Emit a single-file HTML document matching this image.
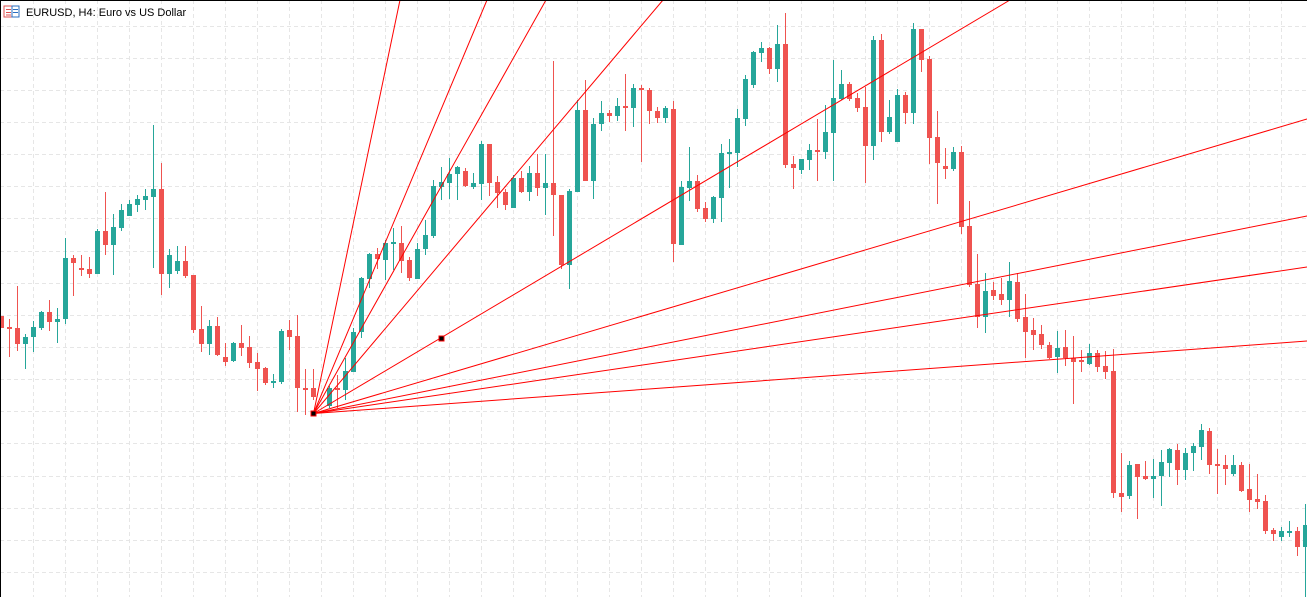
<!DOCTYPE html>
<html><head><meta charset="utf-8"><style>
html,body{margin:0;padding:0;background:#fff;}
#c{position:relative;width:1307px;height:597px;overflow:hidden;}
svg{position:absolute;left:0;top:0;}
</style></head><body><div id="c">
<svg id="s" width="1307" height="597" viewBox="0 0 1307 597" xmlns="http://www.w3.org/2000/svg" shape-rendering="crispEdges">
<g id="grid" stroke="#e6e6e6" stroke-width="1" stroke-dasharray="4,3"></g>
<g id="cd"></g>
<g id="fan" stroke="#ff0000" stroke-width="1" fill="none" shape-rendering="auto"></g>
<rect x="311" y="411" width="5" height="5" fill="#000" stroke="#ff0000" stroke-width="1"/>
<rect x="439" y="336" width="5" height="5" fill="#000" stroke="#ff0000" stroke-width="1"/>
<line x1="0" y1="0.5" x2="1307" y2="0.5" stroke="#000"/>
<line x1="0.5" y1="0" x2="0.5" y2="597" stroke="#000"/>
<rect x="4" y="6" width="15" height="11" fill="#fff" stroke="#e05050"/>
<rect x="12" y="6" width="7" height="11" fill="#fff" stroke="#2a6fc0"/>
<line x1="6" y1="9.5" x2="11" y2="9.5" stroke="#e05050"/><line x1="6" y1="12.5" x2="11" y2="12.5" stroke="#e05050"/><line x1="6" y1="15" x2="11" y2="15" stroke="#e05050"/>
<line x1="13" y1="9.5" x2="18" y2="9.5" stroke="#2a6fc0"/><line x1="13" y1="12.5" x2="18" y2="12.5" stroke="#2a6fc0"/>
<text x="26" y="16" font-family="Liberation Sans, sans-serif" font-size="11" fill="#000">EURUSD, H4:  Euro vs US Dollar</text>
</svg></div>
<script>
var G="#26a69a",R="#ef5350";
var d=[
[1,316,328,316,328,R],[9,327,329,319,357,R],[17,328,344,286,351,R],[25,337,344,334,369,G],[33,327,337,321,352,G],[41,312,328,311,330,G],[49,312,322,300,331,R],[57,319,322,308,343,G],[65,258,319,238,324,G],[73,258,263,255,296,R],[81,268,270,255,276,R],[89,269,274,257,278,R],[97,231,274,229,274,G],[105,231,245,192,255,R],[113,227,245,214,275,G],[121,210,228,204,231,G],[129,204,216,200,216,G],[137,199,205,195,212,G],[145,196,200,189,210,G],[153,189,197,125,268,G],[161,189,274,163,295,R],[169,255,274,249,288,G],[177,261,271,246,274,G],[185,261,276,246,278,R],[193,275,330,275,333,R],[201,329,344,306,352,R],[209,326,344,320,355,G],[217,326,355,317,356,R],[225,357,362,343,366,R],[233,343,361,342,362,G],[241,343,348,325,356,R],[249,347,363,336,368,R],[257,362,369,353,391,R],[265,368,383,367,385,R],[273,381,383,374,388,G],[281,331,382,329,384,G],[289,330,337,320,350,R],[297,336,388,315,412,R],[305,388,389,369,415,R],[313,388,397,369,400,R],
[329,388,406,386,408,G],[337,388,389,375,408,R],[345,371,390,358,400,G],[353,332,372,328,372,G],[361,278,332,277,338,G],[369,254,279,253,288,G],[377,254,259,248,269,R],[385,243,260,240,280,G],[393,242,244,228,270,G],[401,243,261,226,273,R],[409,260,278,257,281,R],[417,249,279,243,279,G],[425,235,249,220,255,G],[433,186,236,180,238,G],[441,182,187,167,200,G],[449,174,183,158,199,G],[457,167,174,166,200,G],[465,171,186,168,187,R],[473,183,187,173,189,G],[481,144,184,141,200,G],[489,144,183,144,196,R],[497,182,193,176,208,R],[505,192,205,189,210,R],[513,178,208,175,208,G],[521,178,192,171,193,R],[529,173,192,166,201,G],[537,173,188,154,196,R],[545,183,188,154,215,G],[553,183,195,61,236,R],[561,195,265,195,269,R],[569,191,265,189,289,G],[577,110,192,100,192,G],[585,110,181,80,181,R],[593,124,181,118,199,G],[601,113,124,101,131,G],[609,113,116,110,122,R],[617,106,116,98,121,G],[625,106,108,74,131,R],[633,88,108,84,127,G],[641,88,90,85,162,R],[649,90,111,88,124,R],[657,111,118,107,123,R],[665,108,118,106,123,G],
[673,109,244,101,262,R],[681,187,245,181,245,G],[689,181,188,147,201,G],[697,181,209,175,212,R],[705,208,219,202,222,R],[713,197,219,196,223,G],[721,153,198,144,222,G],[729,152,154,139,188,G],[737,118,153,109,167,G],[745,79,119,75,126,G],[753,52,85,51,88,G],[761,48,53,42,62,G],[769,48,69,47,74,R],[777,44,69,25,82,G],[785,44,165,13,168,R],[793,164,168,156,189,R],[801,159,170,159,174,G],[809,150,160,144,170,G],[817,150,152,119,181,R],[825,132,152,105,159,G],[833,98,133,60,181,G],[841,84,99,70,100,G],[849,84,99,82,101,R],[857,98,108,93,112,R],[865,107,146,87,183,R],[873,40,146,36,160,G],[881,40,132,34,142,R],[889,117,132,100,134,G],[897,95,142,89,142,G],[905,95,113,92,124,R],[913,29,113,23,124,G],[921,29,60,29,72,R],[929,59,138,56,164,R],[937,137,163,111,204,R],[945,166,169,148,179,R],[953,152,169,147,171,G],[961,152,227,146,234,R],[969,226,285,201,287,R],[977,284,317,254,328,R],[985,291,317,273,333,G],[993,290,296,282,300,R],[1001,294,300,278,305,R],[1009,281,300,262,317,G],[1017,282,319,273,322,R],[1025,317,332,294,358,R],[1033,330,335,318,350,R],[1041,334,345,325,349,R],[1049,345,358,342,359,R],[1057,348,357,331,373,G],[1065,347,358,330,366,R],[1073,358,362,336,404,R],[1081,360,362,350,372,R],[1089,353,364,344,365,G],[1097,353,367,350,372,R],[1105,366,372,351,379,R],[1113,371,493,349,498,R],[1121,493,497,453,512,R],[1129,465,496,461,499,G],[1137,464,477,464,519,R],[1145,476,479,461,480,R],[1153,476,479,459,498,G],[1161,462,476,450,506,G],[1169,449,463,448,477,G],[1177,450,470,444,485,R],[1185,453,470,448,480,G],[1193,446,453,443,471,G],[1201,430,447,424,460,G],[1209,431,465,428,474,R],[1217,464,466,449,494,R],[1225,465,469,455,485,R],[1233,465,474,455,476,G],[1241,465,491,462,492,R],[1249,489,500,464,512,R],[1257,499,502,474,509,R],[1265,501,531,495,534,R],[1273,530,534,528,541,R],[1281,531,537,527,541,G],[1289,531,533,521,537,G],[1297,531,547,527,556,R],[1305,525,547,504,597,G]];
var ns="http://www.w3.org/2000/svg",cd=document.getElementById("cd"),h="";
d.forEach(function(a){var x=a[0];h+='<rect x="'+x+'" y="'+a[3]+'" width="1" height="'+(a[4]-a[3])+'" fill="'+a[5]+'"/>';
h+='<rect x="'+(x-2)+'" y="'+a[1]+'" width="5" height="'+Math.max(2,a[2]-a[1])+'" fill="'+a[5]+'"/>';});
cd.innerHTML=h;
var g="";for(var x=33.5;x<1307;x+=32)g+='<line x1="'+x+'" y1="0" x2="'+x+'" y2="597"/>';
for(var y=25.5;y<597;y+=32.15)g+='<line x1="0" y1="'+Math.round(y)+'.5" x2="1307" y2="'+Math.round(y)+'.5"/>';
document.getElementById("grid").innerHTML=g;
var ox=313.5,oy=413.5,f="",ends=[[400,0],[487,0],[546,0],[663,0],[1010,0],[1307,119],[1307,216],[1307,267],[1307,341]];
ends.forEach(function(e){f+='<line x1="'+ox+'" y1="'+oy+'" x2="'+e[0]+'" y2="'+e[1]+'"/>';});
document.getElementById("fan").innerHTML=f;
</script></body></html>
